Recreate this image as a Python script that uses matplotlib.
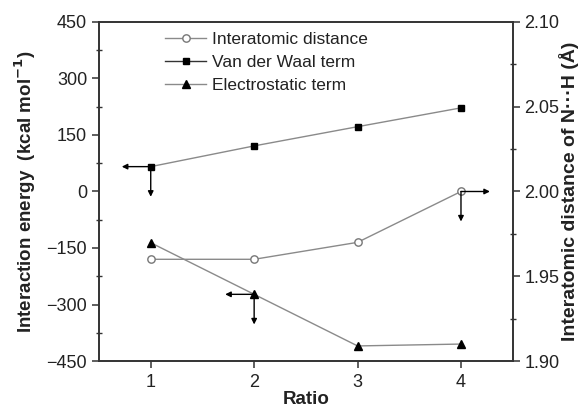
import matplotlib
matplotlib.use("Agg")
import matplotlib.pyplot as plt
from matplotlib.ticker import MultipleLocator

plt.rcParams['font.family'] = ['Liberation Sans', 'DejaVu Sans']

# Data
ratio = [1, 2, 3, 4]
vdw_term = [66, 121, 172, 222]            # kcal/mol
electrostatic_term = [-136, -273, -410, -405]  # kcal/mol
distance = [1.960, 1.960, 1.970, 2.000]    # angstrom

x_ticks = [1, 2, 3, 4]
left_ticks = [-450, -300, -150, 0, 150, 300, 450]
right_ticks = [1.90, 1.95, 2.00, 2.05, 2.10]

line_gray = '#8a8a8a'
spine_col = '#333333'
text_col = '#222222'

fig = plt.figure(figsize=(5.87, 4.07), dpi=100)
ax = fig.add_axes([0.1687, 0.113, 0.7047, 0.833])
ax2 = ax.twinx()

ax.plot(ratio, vdw_term, color=line_gray, lw=1.0, marker='s', ms=4.8,
        mfc='k', mec='k', label='Van der Waal term', zorder=3)
ax.plot(ratio, electrostatic_term, color=line_gray, lw=1.0, marker='^', ms=5.8,
        mfc='k', mec='k', label='Electrostatic term', zorder=3)
ax2.plot(ratio, distance, color=line_gray, lw=1.0, marker='o', ms=5.3,
         mfc='white', mec='#777777', mew=1.0, label='Interatomic distance', zorder=3)

ax.set_xlim(0.5, 4.5)
ax.set_ylim(-450, 450)
ax2.set_ylim(1.90, 2.10)
ax.set_xticks(x_ticks)
ax.set_yticks(left_ticks)
ax.yaxis.set_minor_locator(MultipleLocator(75))
ax2.set_yticks(right_ticks)
ax2.set_yticklabels([f'{v:.2f}' for v in right_ticks])
ax2.yaxis.set_minor_locator(MultipleLocator(0.025))

for a in (ax, ax2):
    for s in a.spines.values():
        s.set_color(spine_col)
        s.set_linewidth(1.2)
    a.tick_params(which='major', direction='out', length=5, width=1.1,
                  colors=spine_col, labelsize=13, labelcolor=text_col)
    a.tick_params(which='minor', direction='inout', length=5, width=1.0,
                  colors=spine_col)
ax.tick_params(axis='x', which='major', length=5, pad=4)
ax.tick_params(axis='y', which='both', right=False)
ax2.tick_params(axis='y', which='both', left=False)

ax.set_xlabel('Ratio', fontsize=13.5, fontweight='bold', color=text_col)
ax.xaxis.set_label_coords(0.5, -0.088)
ax.set_ylabel('Interaction energy  (kcal mol$^{\\mathbf{-1}}$)', fontsize=13.5,
              fontweight='bold', color=text_col)
ax.yaxis.set_label_coords(-0.147, 0.5)
ax2.set_ylabel('Interatomic distance of N\u00b7\u00b7\u00b7H (\u00c5)', fontsize=14,
               fontweight='bold', color=text_col, rotation=90)
ax2.yaxis.set_label_coords(1.112, 0.5)

# Arrows showing which axis each series is read on
arrow_kw = dict(arrowstyle='-|>', mutation_scale=8, color='k', lw=1.0,
                shrinkA=0, shrinkB=0)
dx = 0.28
dy_left = 80
dy_right = 0.0177

i = 0
ax.annotate('', xy=(ratio[i] - dx, vdw_term[i]), xytext=(ratio[i], vdw_term[i]),
            arrowprops=arrow_kw, zorder=4)
ax.annotate('', xy=(ratio[i], vdw_term[i] - dy_left), xytext=(ratio[i], vdw_term[i]),
            arrowprops=arrow_kw, zorder=4)
i = 1
ax.annotate('', xy=(ratio[i] - dx, electrostatic_term[i]),
            xytext=(ratio[i], electrostatic_term[i]), arrowprops=arrow_kw, zorder=4)
ax.annotate('', xy=(ratio[i], electrostatic_term[i] - dy_left),
            xytext=(ratio[i], electrostatic_term[i]), arrowprops=arrow_kw, zorder=4)
i = 3
ax2.annotate('', xy=(ratio[i] + dx, distance[i]), xytext=(ratio[i], distance[i]),
             arrowprops=arrow_kw, zorder=4)
ax2.annotate('', xy=(ratio[i], distance[i] - dy_right), xytext=(ratio[i], distance[i]),
             arrowprops=arrow_kw, zorder=4)

h1, l1 = ax2.get_legend_handles_labels()
h2, l2 = ax.get_legend_handles_labels()
leg = fig.legend(h1 + h2, l1 + l2, loc='upper left',
                 bbox_to_anchor=(156 / 587, 1 - 23 / 407), frameon=False,
                 fontsize=12.5, handlelength=2.4, handletextpad=0.3,
                 labelspacing=0.45, borderpad=0)
for t in leg.get_texts():
    t.set_color(text_col)
# the Van der Waal handle line is drawn darker than the others
leg.get_lines()[1].set_color('#333333')

fig.savefig('out.png', dpi=100)
